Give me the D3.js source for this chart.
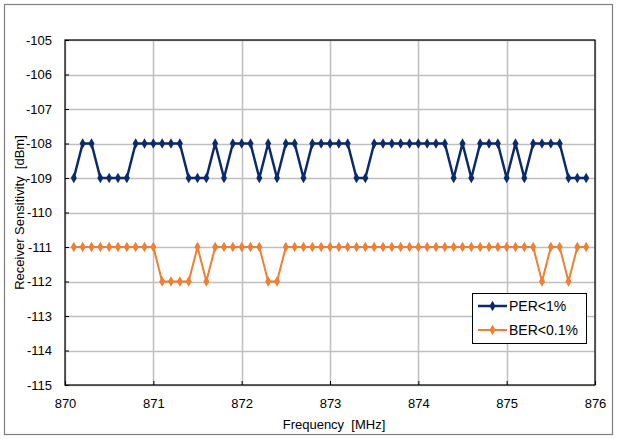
<!DOCTYPE html>
<html lang="en">
<head>
<meta charset="UTF-8">
<title>Receiver Sensitivity</title>
<script src="https://cdn.jsdelivr.net/npm/d3@7"></script>
<style>
	body { margin: 0; background: #fff; }
	text { font-family: "Liberation Sans", Arial, sans-serif; fill: #000; white-space: pre; }
</style>
</head>
<body>
<svg id="svg"></svg>
<script>
// frequencies 870.1 .. 875.9 MHz, step 0.1
var freqs = [870.1, 870.2, 870.3, 870.4, 870.5, 870.6, 870.7, 870.8, 870.9, 871.0,
	871.1, 871.2, 871.3, 871.4, 871.5, 871.6, 871.7, 871.8, 871.9, 872.0,
	872.1, 872.2, 872.3, 872.4, 872.5, 872.6, 872.7, 872.8, 872.9, 873.0,
	873.1, 873.2, 873.3, 873.4, 873.5, 873.6, 873.7, 873.8, 873.9, 874.0,
	874.1, 874.2, 874.3, 874.4, 874.5, 874.6, 874.7, 874.8, 874.9, 875.0,
	875.1, 875.2, 875.3, 875.4, 875.5, 875.6, 875.7, 875.8, 875.9];
var per = [-109, -108, -108, -109, -109, -109, -109, -108, -108, -108,
	-108, -108, -108, -109, -109, -109, -108, -109, -108, -108,
	-108, -109, -108, -109, -108, -108, -109, -108, -108, -108,
	-108, -108, -109, -109, -108, -108, -108, -108, -108, -108,
	-108, -108, -108, -109, -108, -109, -108, -108, -108, -109,
	-108, -109, -108, -108, -108, -108, -109, -109, -109];
var ber = [-111, -111, -111, -111, -111, -111, -111, -111, -111, -111,
	-112, -112, -112, -112, -111, -112, -111, -111, -111, -111,
	-111, -111, -112, -112, -111, -111, -111, -111, -111, -111,
	-111, -111, -111, -111, -111, -111, -111, -111, -111, -111,
	-111, -111, -111, -111, -111, -111, -111, -111, -111, -111,
	-111, -111, -111, -112, -111, -111, -112, -111, -111];
var xTicks = [870, 871, 872, 873, 874, 875, 876];
var yTicks = [-115, -114, -113, -112, -111, -110, -109, -108, -107, -106, -105];

var series = [
	{ name: "PER<1%", values: per, color: "#0b2a6b", width: 2.5 },
	{ name: "BER<0.1%", values: ber, color: "#ef7f33", width: 2 }
];

var w = 617, h = 439;
var svg = d3.select("#svg").attr("width", w).attr("height", h);
var plotLeft = 65, plotRight = 595, plotTop = 40, plotBottom = 385;

svg.append("rect")
	.attr("x", 4.5).attr("y", 4.5)
	.attr("width", 608).attr("height", 430)
	.attr("fill", "#fff").attr("stroke", "#7f7f7f").attr("stroke-width", 1.2);

var x = d3.scaleLinear().domain([870, 876]).range([plotLeft, plotRight]);
var y = d3.scaleLinear().domain([-115, -105]).range([plotBottom, plotTop]);

// grid
svg.append("g").selectAll("line").data(yTicks).enter().append("line")
	.attr("x1", plotLeft).attr("x2", plotRight)
	.attr("y1", function(d) { return Math.round(y(d)) + 0.5; })
	.attr("y2", function(d) { return Math.round(y(d)) + 0.5; })
	.attr("stroke", "#bfbfbf").attr("stroke-width", 1.5);
svg.append("g").selectAll("line").data(xTicks).enter().append("line")
	.attr("y1", plotTop).attr("y2", plotBottom)
	.attr("x1", function(d) { return Math.round(x(d)) + 0.5; })
	.attr("x2", function(d) { return Math.round(x(d)) + 0.5; })
	.attr("stroke", "#bfbfbf").attr("stroke-width", 1.5);

// axes
var xAxis = svg.append("g")
	.attr("transform", "translate(0," + plotBottom + ")")
	.call(d3.axisBottom(x).tickValues(xTicks).tickSize(-4).tickPadding(14).tickFormat(d3.format("d")));
var yAxis = svg.append("g")
	.attr("transform", "translate(" + plotLeft + ",0)")
	.call(d3.axisLeft(y).tickValues(yTicks).tickSize(-4).tickPadding(13).tickFormat(function(d) { return "-" + Math.abs(d); }));
[xAxis, yAxis].forEach(function(a) {
	a.select(".domain").remove();
	a.selectAll(".tick line").attr("stroke", "#000");
	a.selectAll("text").style("font-size", "13px").attr("fill", "#000");
});

svg.append("rect")
	.attr("x", plotLeft).attr("y", plotTop)
	.attr("width", plotRight - plotLeft).attr("height", plotBottom - plotTop)
	.attr("fill", "none").attr("stroke", "#000").attr("stroke-width", 1.2);

// series
var line = d3.line()
	.x(function(d, i) { return x(freqs[i]); })
	.y(function(d) { return y(d); });
var diamond = d3.symbol().type(d3.symbolDiamond).size(32);

series.forEach(function(s) {
	var g = svg.append("g");
	g.append("path")
		.attr("d", line(s.values))
		.attr("fill", "none").attr("stroke", s.color)
		.attr("stroke-width", s.width).attr("stroke-linejoin", "round");
	g.selectAll("path.m").data(s.values).enter().append("path")
		.attr("class", "m")
		.attr("d", diamond)
		.attr("transform", function(d, i) { return "translate(" + x(freqs[i]) + "," + y(d) + ")"; })
		.attr("fill", s.color);
});

// axis titles
svg.append("text")
	.attr("x", 334).attr("y", 429)
	.attr("text-anchor", "middle").style("font-size", "13px")
	.text("Frequency  [MHz]");
svg.append("text")
	.attr("transform", "translate(23.5," + ((plotTop + plotBottom) / 2) + ") rotate(-90)")
	.attr("text-anchor", "middle").style("font-size", "13px")
	.text("Receiver Sensitivity  [dBm]");

// legend
var lg = svg.append("g").attr("transform", "translate(472,293)");
lg.append("rect").attr("x", 0.5).attr("y", 0.5).attr("width", 114).attr("height", 50)
	.attr("fill", "#fff").attr("stroke", "#000").attr("stroke-width", 1);
series.forEach(function(s, i) {
	var yy = 13 + i * 24;
	lg.append("line").attr("x1", 6).attr("x2", 35).attr("y1", yy).attr("y2", yy)
		.attr("stroke", s.color).attr("stroke-width", s.width);
	lg.append("path").attr("d", diamond).attr("transform", "translate(20.5," + yy + ")").attr("fill", s.color);
	lg.append("text").attr("x", 37).attr("y", yy + 5).style("font-size", "14px").text(s.name);
});
</script>
</body>
</html>
